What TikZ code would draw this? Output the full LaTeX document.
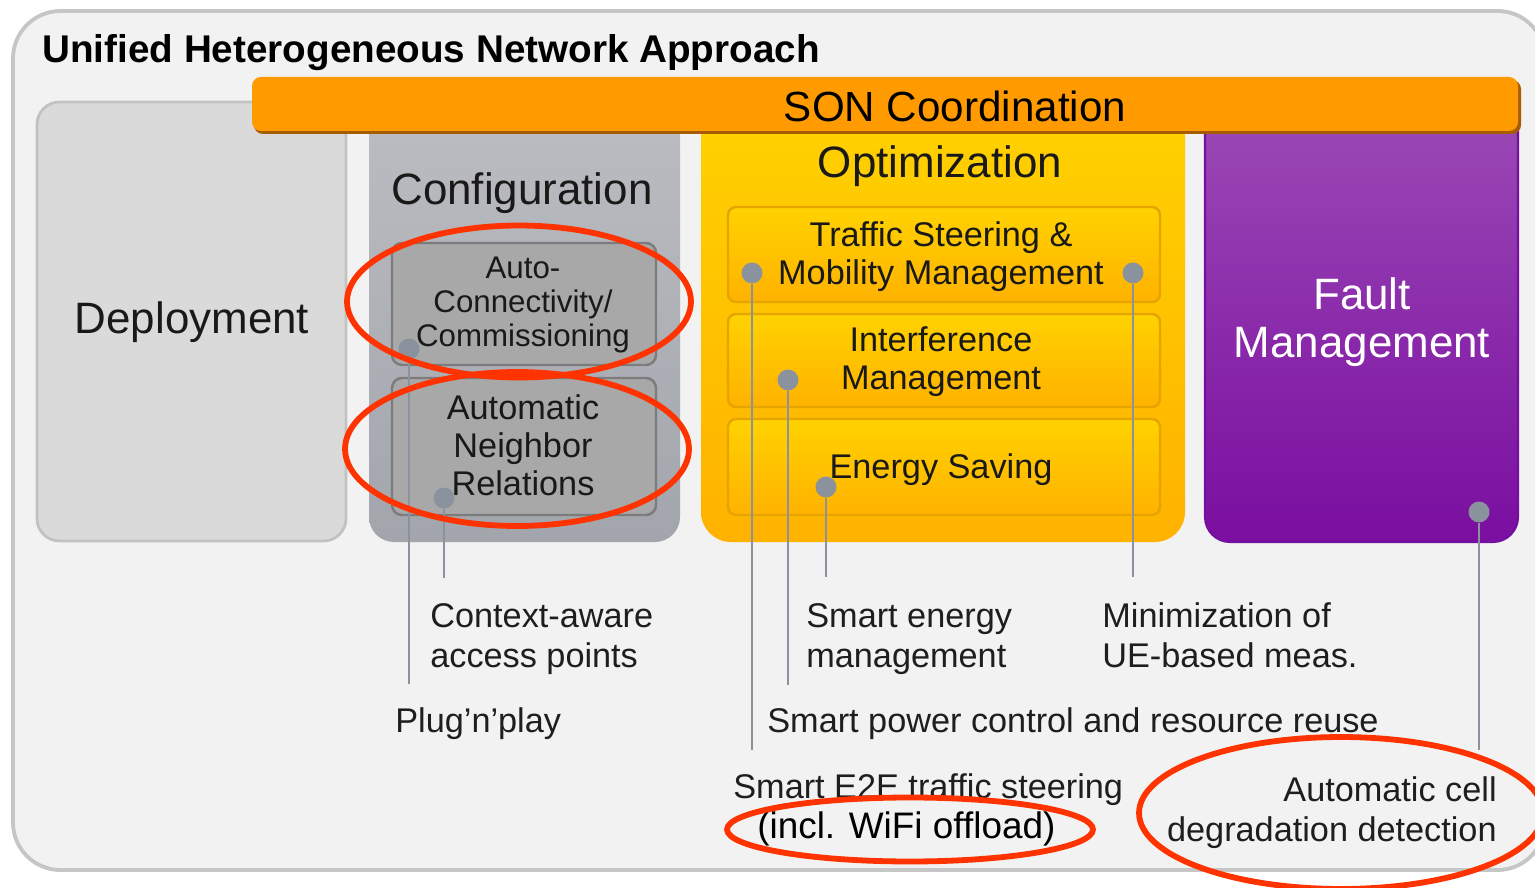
\documentclass[tikz,border=0pt]{standalone}
\usepackage{fontspec}
\setmainfont{Liberation Sans}
\definecolor{framefill}{HTML}{F2F2F2}
\definecolor{frameline}{HTML}{C6C6C6}
\definecolor{depfill}{HTML}{DADADA}
\definecolor{depline}{HTML}{C2C2C2}
\definecolor{cfgtop}{HTML}{BBBDC2}
\definecolor{cfgbot}{HTML}{A2A5AC}
\definecolor{cfgsub}{HTML}{A8A8A8}
\definecolor{cfgsubline}{HTML}{7C7C7C}
\definecolor{opttop}{HTML}{FFD200}
\definecolor{optbot}{HTML}{FFB200}
\definecolor{optsubline}{HTML}{E6A400}
\definecolor{fmtop}{HTML}{9C4AB6}
\definecolor{fmbot}{HTML}{7A0EA0}
\definecolor{fmline}{HTML}{7410A0}
\definecolor{sonfill}{HTML}{FF9A00}
\definecolor{sonshadow}{HTML}{A65C00}
\definecolor{dotc}{HTML}{8A939D}
\definecolor{ringred}{HTML}{FF3300}
\definecolor{labelc}{HTML}{1E1E1E}
\begin{document}
\begin{tikzpicture}[x=0.02cm,y=-0.02cm,
  lbl/.style={font=\fontsize{19.5}{22.7}\selectfont, text=labelc, inner sep=0, align=left},
  bigtxt/.style={font=\fontsize{25}{27.2}\selectfont, inner sep=0, align=center},
  subtxt/.style={font=\fontsize{19.5}{21.5}\selectfont, inner sep=0, align=center},
  dotnode/.style={circle, fill=dotc, minimum size=0.42cm, inner sep=0},
  conn/.style={draw=dotc, line width=1.6pt},
  redring/.style={draw=ringred, line width=3.3pt},
  optsub/.style={top color=opttop, bottom color=optbot, draw=optsubline, line width=1.4pt, rounded corners=0.16cm},
  cfgsubbox/.style={fill=cfgsub, draw=cfgsubline, line width=1.4pt, rounded corners=0.2cm}]
\useasboundingbox (0,0) rectangle (1535,888);
\clip (0,0) rectangle (1535,888);
\fill[white] (0,0) rectangle (1535,888);
% outer frame
\draw[fill=framefill, draw=frameline, line width=2.2pt, rounded corners=0.95cm] (13,11) rectangle (1545,870);
\node[anchor=west, inner sep=0, font=\fontsize{22}{26}\selectfont\bfseries] (title) at (42,53) {Unified Heterogeneous Network Approach};
% main boxes
\draw[fill=depfill, draw=depline, line width=1.6pt, rounded corners=0.45cm] (37,102) rectangle (346,541);
\path[top color=cfgtop, bottom color=cfgbot, rounded corners=0.5cm] (369,100) rectangle (680,542);
\path[top color=opttop, bottom color=optbot, rounded corners=0.6cm] (701,100) rectangle (1185,542);
\draw[top color=fmtop, bottom color=fmbot, draw=fmline, line width=1.2pt, rounded corners=0.5cm] (1205,100) rectangle (1518,542);
% SON bar
\fill[sonshadow, rounded corners=0.18cm] (254,80) rectangle (1521,134);
\fill[sonfill, rounded corners=0.18cm] (252,77) rectangle (1518,131);
\node[font=\fontsize{24}{28}\selectfont, inner sep=0] (son) at (955,106) {SON Coordination};
% sub boxes
\path[cfgsubbox] (392,243) rectangle (656,365);
\path[cfgsubbox] (392,378) rectangle (656,515);
\path[optsub] (728,207) rectangle (1160,302);
\path[optsub] (728,314) rectangle (1160,407);
\path[optsub] (728,419) rectangle (1160,515);
% box texts
\node[bigtxt, text=black!90] (dep) at (192,322) {Deployment};
\node[bigtxt, text=black!90] (cfg) at (522,193) {Configuration};
\node[bigtxt, text=black!90] (opt) at (940,166) {Optimization};
\node[bigtxt, text=white] (fm) at (1362,322) {Fault\\Management};
\node[font=\fontsize{17.8}{19.3}\selectfont, inner sep=0, align=center, text=black!90] (acc) at (523,305) {Auto-\\Connectivity/\\Commissioning};
\node[subtxt, text=black!90] (anr) at (523,445) {Automatic\\Neighbor\\Relations};
\node[subtxt, text=black!90] (tsm) at (941,257) {Traffic Steering \&\\Mobility Management};
\node[subtxt, text=black!90] (im) at (941,362) {Interference\\Management};
\node[subtxt, text=black!90] (es) at (941,470) {Energy Saving};
% labels
\node[lbl, anchor=west] (ctx) at (430,639) {Context-aware\\access points};
\node[lbl, anchor=west] (plug) at (395,724) {Plug'n'play};
\node[lbl, anchor=west] (sem) at (806,639) {Smart energy\\management};
\node[lbl, anchor=west] (minue) at (1102,635) {Minimization of\\UE-based meas.};
\node[lbl, anchor=west] (spc) at (767,724) {Smart power control and resource reuse};
\node[lbl, anchor=west] (e2e) at (733,790) {Smart E2E traffic steering};
\node[anchor=west, inner sep=0, font=\fontsize{21}{24}\selectfont, text=black] (wifi) at (757,829) {(incl. WiFi offload)};
\node[lbl, anchor=east, align=right] (acd) at (1497,813) {Automatic cell\\degradation detection};
% dots
\node[dotnode] (dplug) at (409,349) {};
\node[dotnode] (dctx) at (444,498) {};
\node[dotnode] (dtsl) at (752,273) {};
\node[dotnode] (dtsr) at (1133,273) {};
\node[dotnode] (dim) at (788,380) {};
\node[dotnode] (des) at (826,487) {};
\node[dotnode] (dfm) at (1479,512) {};
% connector ends
\coordinate (cplug) at (409,684);
\coordinate (cctx) at (444,578);
\coordinate (ce2e) at (752,750);
\coordinate (cspc) at (788,685);
\coordinate (csem) at (826,577);
\coordinate (cmin) at (1133,577);
\coordinate (cacd) at (1479,750);
\draw[conn] (dplug) -- (cplug);
\draw[conn] (dctx) -- (cctx);
\draw[conn] (dtsl) -- (ce2e);
\draw[conn] (dtsr) -- (cmin);
\draw[conn] (dim) -- (cspc);
\draw[conn] (des) -- (csem);
\draw[conn] (dfm) -- (cacd);
% red rings
\draw[redring] (519,301.5) ellipse [x radius=3.44cm, y radius=1.52cm];
\draw[redring] (517,449) ellipse [x radius=3.44cm, y radius=1.54cm];
\draw[redring] (910,829.5) ellipse [x radius=3.66cm, y radius=0.64cm];
\draw[redring] (1341,813) ellipse [x radius=4.04cm, y radius=1.52cm];
\end{tikzpicture}
\end{document}
